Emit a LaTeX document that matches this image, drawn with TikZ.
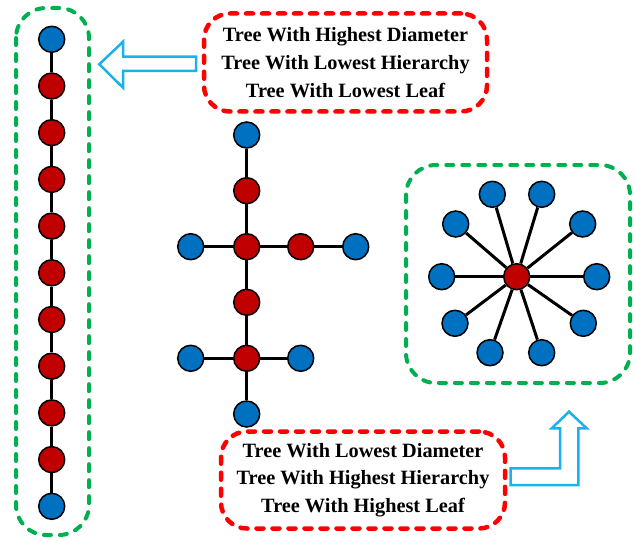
\documentclass[tikz,border=0pt]{standalone}
\usepackage{fontspec}
\setmainfont{Liberation Serif}
\definecolor{leafblue}{HTML}{0070C0}
\definecolor{innerred}{HTML}{C00000}
\definecolor{boxgreen}{HTML}{00B050}
\definecolor{boxred}{HTML}{FF0000}
\definecolor{arrowcyan}{HTML}{1AB2EC}
\tikzset{
    leaf/.style={circle, draw=black, line width=1.5pt, fill=leafblue, minimum size=26pt, inner sep=0pt},
    inner/.style={circle, draw=black, line width=1.5pt, fill=innerred, minimum size=26pt, inner sep=0pt},
    link/.style={draw=black, line width=3pt},
    greenbox/.style={draw=boxgreen, line width=4pt, line cap=round, dash pattern=on 7pt off 9pt, rounded corners=30pt},
    redbox/.style={draw=boxred, line width=4.5pt, line cap=round, dash pattern=on 7pt off 9pt, rounded corners=26pt,
        align=center, font=\fontsize{20.3}{27.7}\selectfont\bfseries, inner sep=0pt},
    blockarrow/.style={draw=arrowcyan, fill=white, line width=2.5pt}
}
\begin{document}
\begin{tikzpicture}
        [x=1pt, y=-1pt]
        \useasboundingbox (0,0) rectangle (636,540);
        \draw[greenbox]
            (16,8) rectangle (89,535);
        \draw[greenbox]
            (406,165) rectangle (630,383);
        \node[leaf] (c1) at (51.7,39.3) {};
        \foreach \i in {2,...,10}
            \node[inner] (c\i) at (51.7,{39.3+46.7*(\i-1)}) {};
        \node[leaf] (c11) at (51.7,506.3) {};
        \foreach \i [evaluate=\i as \j using int(\i+1)] in {1,...,10}
            \draw[link] (c\i) -- (c\j);
        \node[leaf] (t1) at (246.7,135) {};
        \node[inner] (t2) at (246.7,190.7) {};
        \node[inner] (t3) at (246.7,246.7) {};
        \node[leaf] (t4) at (190.7,246.7) {};
        \node[inner] (t5) at (300.7,246.7) {};
        \node[leaf] (t6) at (355.7,246.7) {};
        \node[inner] (t7) at (246.7,302.3) {};
        \node[inner] (t8) at (246.7,358.3) {};
        \node[leaf] (t9) at (190.7,358.3) {};
        \node[leaf] (t10) at (300.7,358.3) {};
        \node[leaf] (t11) at (246.7,414) {};
        \draw[link] (t1) -- (t2) (t2) -- (t3) (t3) -- (t4) (t3) -- (t5)
            (t5) -- (t6) (t3) -- (t7) (t7) -- (t8) (t8) -- (t9)
            (t8) -- (t10) (t8) -- (t11);
        \node[inner] (s0) at (516.7,276.7) {};
        \node[leaf] (s1) at (596.7,276.7) {};
        \node[leaf] (s2) at (582.7,224) {};
        \node[leaf] (s3) at (541.7,194.3) {};
        \node[leaf] (s4) at (492.3,194.3) {};
        \node[leaf] (s5) at (455.7,224) {};
        \node[leaf] (s6) at (441.7,276.7) {};
        \node[leaf] (s7) at (455,323.3) {};
        \node[leaf] (s8) at (490,352.7) {};
        \node[leaf] (s9) at (541.7,352.7) {};
        \node[leaf] (s10) at (583.3,323.3) {};
        \foreach \i in {1,...,10}
            \draw[link] (s0) -- (s\i);
        \node[redbox, minimum width=283pt, minimum height=98pt] (topbox) at (345.5,62.5)
            {Tree With Highest Diameter\\Tree With Lowest Hierarchy\\Tree With Lowest Leaf};
        \node[redbox, minimum width=284pt, minimum height=97pt] (botbox) at (363,480)
            {Tree With Lowest Diameter\\Tree With Highest Hierarchy\\Tree With Highest Leaf};
        \draw[blockarrow]
            (99.3,64.3)--(123,41.7)--(123,56.7)--(196,56.7)--
            (196,71)--(123,71)--(123,87.7)--cycle;
        \draw[blockarrow]
            (510.7,468.3)--(560,468.3)--(560,428.3)--(551.7,428.3)--
            (569,411.7)--(586.7,428.3)--(578.3,428.3)--(578.3,485)--
            (510.7,485)--cycle;
        \end{tikzpicture}
\end{document}
